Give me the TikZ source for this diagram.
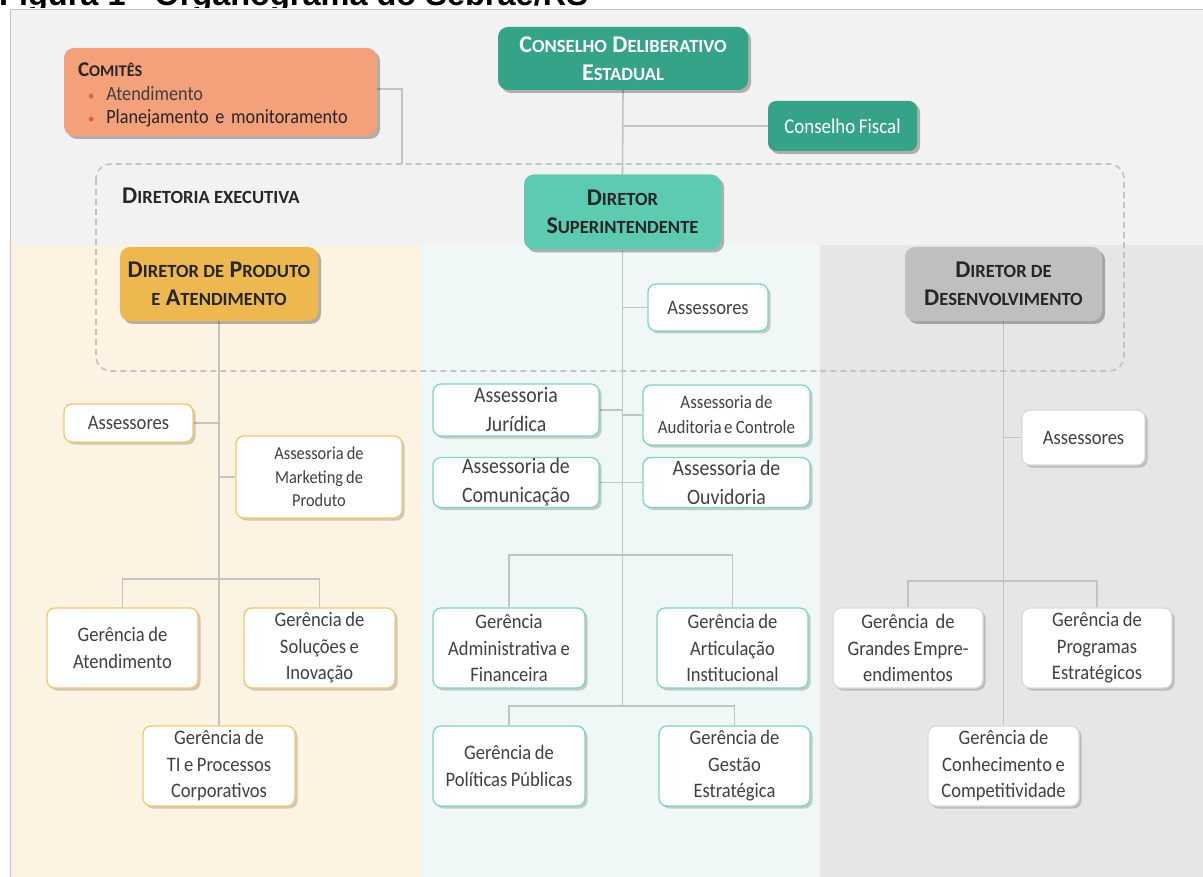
\documentclass[tikz,border=0pt]{standalone}
\usepackage{fontspec}
\setmainfont{Carlito}[FakeStretch=0.9,WordSpace=0.85]
\newfontfamily\headfont{Carlito}
\newfontfamily\titlefont{Liberation Sans}
\usetikzlibrary{shadows}
\pgfdeclarelayer{bg}
\pgfdeclarelayer{mid}
\pgfsetlayers{bg,mid,main}
\definecolor{topbg}{HTML}{F2F2F2}
\definecolor{leftbg}{HTML}{FCF3E3}
\definecolor{midbg}{HTML}{EFF8F6}
\definecolor{rightbg}{HTML}{E6E6E6}
\definecolor{salmon}{HTML}{F4A07A}
\definecolor{teal}{HTML}{35A28A}
\definecolor{mint}{HTML}{5DCBB2}
\definecolor{gold}{HTML}{EDB84F}
\definecolor{grayhead}{HTML}{BFBFBF}
\definecolor{goldline}{HTML}{F3C76A}
\definecolor{mintline}{HTML}{80D4C0}
\definecolor{grayline}{HTML}{DADADA}
\definecolor{linec}{HTML}{C3C3C3}
\definecolor{txt}{HTML}{404040}
\definecolor{headtxt}{HTML}{262626}
\definecolor{bul}{HTML}{E0602F}
% fake small caps: big first letter, smaller capitals after it
\newcommand\bigsc[2]{#1{\fontsize{18.6}{20}\selectfont #2}}
\newcommand\midsc[2]{#1{\fontsize{16.3}{20}\selectfont #2}}
\tikzset{
  shad/.style={drop shadow={shadow xshift=3pt,shadow yshift=-3pt,fill=black,opacity=0.28}},
  lshad/.style={drop shadow={shadow xshift=2.5pt,shadow yshift=-2.5pt,fill=black,opacity=0.18}},
  headbox/.style={rounded corners=10pt, shad, align=center, inner sep=0pt, text=headtxt,
     font=\headfont\bfseries\fontsize{24}{28.5}\selectfont},
  wbox/.style={rounded corners=8pt, fill=white, line width=1.3pt, lshad, align=center,
     inner sep=0pt, text=txt, font=\fontsize{20.6}{26.5}\selectfont},
  lbox/.style={wbox, draw=goldline},
  mbox/.style={wbox, draw=mintline},
  rbox/.style={wbox, draw=grayline},
  conn/.style={draw=linec, line width=1.6pt},
}
\begin{document}
\begin{tikzpicture}[x=1pt,y=-1pt]
\useasboundingbox (0,0) rectangle (1203,877);
\begin{pgfonlayer}{bg}
% title (cut off at the top edge, as in the reference)
\begin{scope}
\clip (0,0) rectangle (1203,7.5);
\node[anchor=base west, inner sep=0pt, font=\titlefont\bfseries\fontsize{32.5}{32}\selectfont] (title) at (-1,5.5) {Figura 1 - Organograma do Sebrae/RS};
\end{scope}
% backgrounds
\fill[topbg] (10,10) rectangle (1203,245);
\fill[leftbg] (10,245) rectangle (421,877);
\fill[midbg] (421,245) rectangle (820,877);
\fill[rightbg] (820,245) rectangle (1203,877);
\draw[linec, line width=1pt] (10,877) -- (10,10) -- (1203,10);
% executive frame
\draw[linec, line width=1.6pt, dash pattern=on 6pt off 4pt, rounded corners=15pt] (96,164) rectangle (1124,371);
\end{pgfonlayer}
\coordinate (dtop) at (402,164);
\node[anchor=west, inner sep=0pt, text=headtxt, font=\headfont\bfseries\fontsize{24}{24}\selectfont] (dirlab) at (122,196) {\bigsc{D}{IRETORIA EXECUTIVA}};
% top nodes
\node[rounded corners=10pt, shad, fill=salmon, minimum width=313pt, minimum height=88pt, text width=285pt, inner xsep=14pt, inner ysep=0pt, align=left, text=headtxt, font=\fontsize{20.2}{23.7}\selectfont] (com) at (220.5,92)
  {\rule{0pt}{20pt}{\headfont\bfseries\fontsize{21}{23.7}\selectfont\midsc{C}{OMITÊS}}\\
   \hspace*{10pt}{\color{bul}\fontsize{14}{14}\selectfont•}\hspace{12pt}{\color{txt}Atendimento}\\
   \hspace*{10pt}{\color{bul}\fontsize{14}{14}\selectfont•}\hspace{12pt}Planejamento e monitoramento};
\node[headbox, fill=teal, text=white, minimum width=250pt, minimum height=63pt] (cde) at (623,58.5)
  {\bigsc{C}{ONSELHO} \bigsc{D}{ELIBERATIVO}\\\bigsc{E}{STADUAL}};
\node[rounded corners=8pt, shad, fill=teal, text=white, minimum width=149pt, minimum height=50pt, inner sep=0pt, font=\fontsize{21}{26}\selectfont] (cf) at (842.5,126) {Conselho Fiscal};
\node[headbox, fill=mint, minimum width=197pt, minimum height=75pt] (ds) at (622.5,212)
  {\bigsc{D}{IRETOR}\\\bigsc{S}{UPERINTENDENTE}};
\node[headbox, fill=gold, minimum width=198pt, minimum height=74pt] (pa) at (219,284)
  {\bigsc{D}{IRETOR DE} \bigsc{P}{RODUTO}\\{\fontsize{18.6}{20}\selectfont E} \bigsc{A}{TENDIMENTO}};
\node[headbox, fill=grayhead, minimum width=197pt, minimum height=74pt] (dd) at (1003.5,284)
  {\bigsc{D}{IRETOR DE}\\\bigsc{D}{ESENVOLVIMENTO}};
% left column
\node[lbox, minimum width=129pt, minimum height=38pt] (ass1) at (128.5,423) {Assessores};
\node[lbox, minimum width=166pt, minimum height=82pt, font=\fontsize{18.2}{23.5}\selectfont] (amp) at (319,477) {Assessoria de\\Marketing de\\Produto};
\node[lbox, minimum width=151pt, minimum height=80pt] (ga) at (122.5,648) {Gerência de\\Atendimento};
\node[lbox, minimum width=151pt, minimum height=80pt] (gs) at (319.5,648) {Gerência de\\Soluções e\\Inovação};
\node[lbox, minimum width=152pt, minimum height=80pt] (gti) at (219,766) {Gerência de\\TI e Processos\\Corporativos};
% middle column
\node[mbox, minimum width=120pt, minimum height=47pt] (ass2) at (708,307.5) {Assessores};
\node[mbox, minimum width=166pt, minimum height=52pt, font=\fontsize{22}{29}\selectfont] (aj) at (516,410) {Assessoria\\Jurídica};
\node[mbox, minimum width=167pt, minimum height=60pt, font=\fontsize{18.8}{25}\selectfont] (aac) at (726.5,415) {Assessoria de\\Auditoria\hspace{2.5pt}e Controle};
\node[mbox, minimum width=166pt, minimum height=50pt, font=\fontsize{22}{29}\selectfont] (acm) at (516,482.5) {Assessoria de\\Comunicação};
\node[mbox, minimum width=167pt, minimum height=50pt, font=\fontsize{22}{29}\selectfont] (aov) at (726.5,482.5) {Assessoria de\\Ouvidoria};
\node[mbox, minimum width=152pt, minimum height=80pt] (gaf) at (509,648) {Gerência\\Administrativa e\\Financeira};
\node[mbox, minimum width=151pt, minimum height=80pt] (gai) at (732.5,648) {Gerência de\\Articulação\\Institucional};
\node[mbox, minimum width=152pt, minimum height=80pt] (gpp) at (509,766) {Gerência de\\Políticas Públicas};
\node[mbox, minimum width=151pt, minimum height=80pt] (gge) at (734.5,766) {Gerência de\\Gestão\\Estratégica};
% right column
\node[rbox, minimum width=123pt, minimum height=55pt] (ass3) at (1083.5,437.5) {Assessores};
\node[rbox, minimum width=150pt, minimum height=80pt] (gem) at (908,648) {Gerência\ \ de\\Grandes Empre-\\endimentos};
\node[rbox, minimum width=150pt, minimum height=80pt] (gpe) at (1097,648) {Gerência de\\Programas\\Estratégicos};
\node[rbox, minimum width=151pt, minimum height=80pt] (gcc) at (1003.5,766) {Gerência de\\Conhecimento e\\Competitividade};
% connectors
\coordinate (lj) at (219,579);
\coordinate (mj1) at (622.5,555);
\coordinate (mj2) at (622.5,706);
\coordinate (rj) at (1003.5,581);
\begin{pgfonlayer}{mid}
\draw[conn] (com.east |- 0,89) -- (dtop |- 0,89) -- (dtop);
\draw[conn] (cde.south) -- (ds.north);
\draw[conn] (cf.west -| cde.south) -- (cf.west);
\draw[conn] (ds.south) -- (mj2);
\draw[conn] (ass2.west) -- (ass2.west -| ds.south);
\draw[conn] (aj.east) -- (aj.east -| ds.south);
\draw[conn] (aac.west) -- (aac.west -| ds.south);
\draw[conn] (acm.east) -- (acm.east -| ds.south);
\draw[conn] (aov.west) -- (aov.west -| ds.south);
\draw[conn] (gaf.north) |- (mj1) -| (gai.north);
\draw[conn] (gpp.north) |- (mj2) -| (gge.north);
\draw[conn] (pa.south) -- (gti.north);
\draw[conn] (ass1.east) -- (ass1.east -| pa.south);
\draw[conn] (amp.west) -- (amp.west -| pa.south);
\draw[conn] (ga.north) |- (lj) -| (gs.north);
\draw[conn] (dd.south) -- (gcc.north);
\draw[conn] (ass3.west) -- (ass3.west -| dd.south);
\draw[conn] (gem.north) |- (rj) -| (gpe.north);
\end{pgfonlayer}
\end{tikzpicture}
\end{document}
